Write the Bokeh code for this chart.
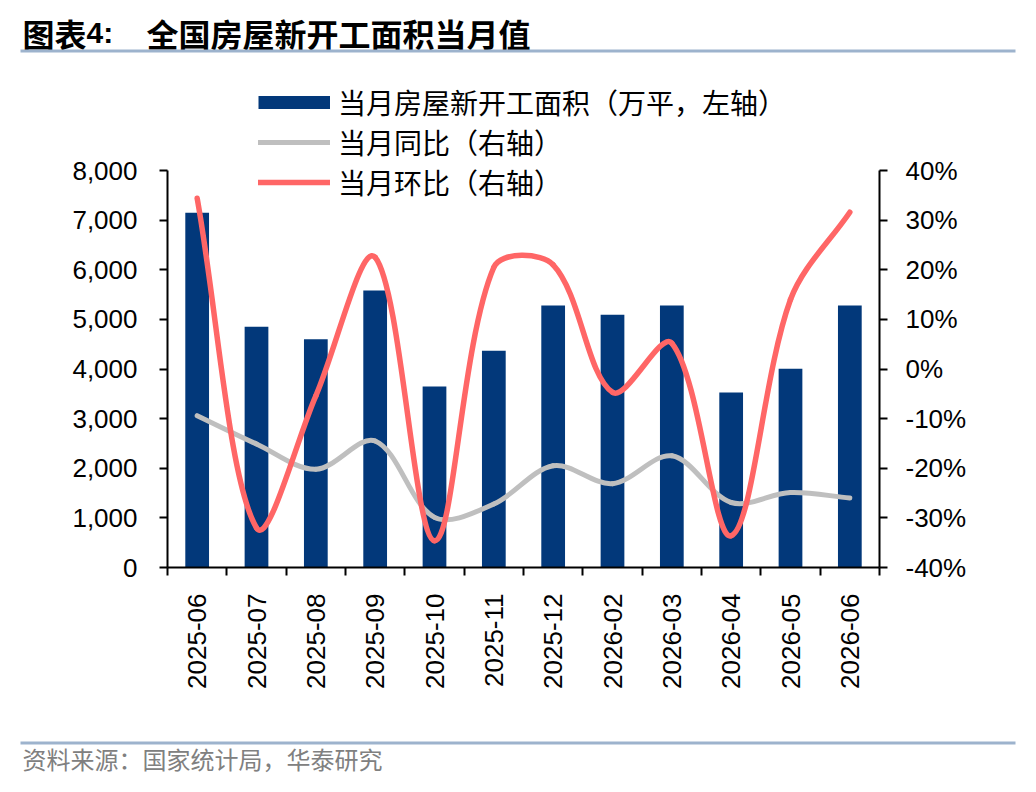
import numpy as np
from bokeh.plotting import figure
from bokeh.layouts import column
from bokeh.models import (ColumnDataSource, Range1d, LinearAxis, FixedTicker,
                          NumeralTickFormatter, PrintfTickFormatter, Legend,
                          LegendItem, Label, BoxAnnotation)
from bokeh.embed import file_html
from bokeh.resources import INLINE

# ---------------- data ----------------
months = ["2025-06", "2025-07", "2025-08", "2025-09", "2025-10", "2025-11",
          "2025-12", "2026-02", "2026-03", "2026-04", "2026-05", "2026-06"]
area = [7150, 4850, 4600, 5580, 3645, 4370, 5280, 5095, 5280, 3525, 4005, 5280]
yoy = [-9.4, -15.1, -20.2, -14.5, -29.9, -27.2, -19.5, -23.1, -17.5, -26.9, -24.9, -26.0]
mom = [34.4, -32.0, -5.4, 22.5, -34.6, 20.5, 21.0, -4.7, 5.2, -33.6, 14.0, 31.6]
left_ticks = [0, 1000, 2000, 3000, 4000, 5000, 6000, 7000, 8000]
right_ticks = [-40, -30, -20, -10, 0, 10, 20, 30, 40]

title_a = "图表"
title_b = "4:"
title_txt = "全国房屋新开工面积当月值"
source_txt = "资料来源：国家统计局，华泰研究"
leg_bar = "当月房屋新开工面积（万平，左轴）"
leg_yoy = "当月同比（右轴）"
leg_mom = "当月环比（右轴）"

NAVY = "#02387A"
GRAY = "#BFBFBF"
RED = "#FF6666"
RULE = "#9DB3CD"
CJK = "Noto Sans CJK SC"
TICK_FONT = "Liberation Sans"

W = 1020
HEAD_H, MAIN_H, FOOT_H = 60, 660, 56
# page positions (px) of the main frame
F_LEFT, F_RIGHT, F_BOTTOM, TOP_TICK = 167, 879, 567, 170
BL, BR, BT = F_LEFT, W - F_RIGHT, 0
BB = HEAD_H + MAIN_H - F_BOTTOM
FH = MAIN_H - BT - BB                    # frame height in px
DH = F_BOTTOM - TOP_TICK                 # px between lowest and highest tick


def blank(h):
    f = figure(width=W, height=h, output_backend="svg", toolbar_location=None,
               x_range=Range1d(0, 1), y_range=Range1d(0, 1),
               x_axis_location=None, y_axis_location=None,
               min_border_left=0, min_border_right=0, min_border_top=0,
               min_border_bottom=0)
    f.outline_line_color = None
    f.grid.visible = False
    f.frame_align = False
    return f


# ---------------- header ----------------
head = blank(HEAD_H)
head.add_layout(Label(x=22, y=HEAD_H - 32, x_units="screen", y_units="screen",
                      text=title_a, text_font=CJK, text_font_size="32px",
                      text_font_style="bold", text_baseline="middle", text_color="black"))
head.add_layout(Label(x=86, y=HEAD_H - 32, x_units="screen", y_units="screen",
                      text=title_b, text_font=TICK_FONT, text_font_size="30px",
                      text_font_style="bold", text_baseline="middle", text_color="black"))
head.add_layout(Label(x=146, y=HEAD_H - 32, x_units="screen", y_units="screen",
                      text=title_txt, text_font=CJK, text_font_size="32px",
                      text_font_style="bold", text_baseline="middle", text_color="black"))
head.add_layout(BoxAnnotation(left=20, right=1015, top=HEAD_H - 49, bottom=HEAD_H - 52,
                              left_units="screen", right_units="screen",
                              top_units="screen", bottom_units="screen",
                              fill_color=RULE, fill_alpha=1, line_color=None))

# ---------------- main chart ----------------
xs = np.arange(len(months))
y_top = left_ticks[0] + (left_ticks[-1] - left_ticks[0]) * FH / DH
r_top = right_ticks[0] + (right_ticks[-1] - right_ticks[0]) * FH / DH
p = figure(width=W, height=MAIN_H, output_backend="svg", toolbar_location=None,
           x_range=Range1d(-0.5, len(months) - 0.5),
           y_range=Range1d(left_ticks[0], y_top),
           min_border_left=BL, min_border_right=BR, min_border_top=BT,
           min_border_bottom=BB)
p.frame_align = False
p.extra_y_ranges = {"right": Range1d(right_ticks[0], r_top)}
p.outline_line_color = None
p.xgrid.visible = False
p.ygrid.visible = False

src = ColumnDataSource(dict(x=xs, area=area, yoy=yoy, mom=mom))
p.vbar(x="x", top="area", bottom=0, width=0.4, source=src,
       fill_color=NAVY, line_color=None)


def smooth(xv, yv, sx, sy, s=1.0 / 3.0):
    """Excel-like smoothed curve: cubic bezier segments through the points."""
    P = np.column_stack([np.asarray(xv, float) * sx, np.asarray(yv, float) * sy])
    n = len(P)
    d = np.hypot(*(P[1:] - P[:-1]).T)
    cout, cin = [], []
    for i in range(n):
        prev = P[i - 1] if i > 0 else P[i]
        nxt = P[i + 1] if i < n - 1 else P[i]
        T = nxt - prev
        dp = d[i - 1] if i > 0 else 0.0
        dn = d[i] if i < n - 1 else 0.0
        tot = dp + dn
        cout.append(P[i] + T * s * (dn / tot))
        cin.append(P[i] - T * s * (dp / tot))
    seg = dict(x0=[], y0=[], x1=[], y1=[], cx0=[], cy0=[], cx1=[], cy1=[])
    for i in range(n - 1):
        seg["x0"].append(P[i][0] / sx); seg["y0"].append(P[i][1] / sy)
        seg["x1"].append(P[i + 1][0] / sx); seg["y1"].append(P[i + 1][1] / sy)
        seg["cx0"].append(cout[i][0] / sx); seg["cy0"].append(cout[i][1] / sy)
        seg["cx1"].append(cin[i + 1][0] / sx); seg["cy1"].append(cin[i + 1][1] / sy)
    return ColumnDataSource(seg)


px_x = (F_RIGHT - F_LEFT) / len(months)
px_r = DH / (right_ticks[-1] - right_ticks[0])
p.bezier(x0="x0", y0="y0", x1="x1", y1="y1", cx0="cx0", cy0="cy0", cx1="cx1", cy1="cy1",
         source=smooth(xs, yoy, px_x, px_r), line_color=GRAY, line_width=5,
         line_cap="round", y_range_name="right")
p.bezier(x0="x0", y0="y0", x1="x1", y1="y1", cx0="cx0", cy0="cy0", cx1="cx1", cy1="cy1",
         source=smooth(xs, mom, px_x, px_r), line_color=RED, line_width=5.5,
         line_cap="round", y_range_name="right")

# ---------------- axes ----------------
xa = p.xaxis[0]
xa.ticker = FixedTicker(ticks=list(xs), minor_ticks=[i - 0.5 for i in range(len(months) + 1)])
xa.major_label_overrides = {int(i): m for i, m in zip(xs, months)}
xa.major_label_orientation = np.pi / 2
xa.major_tick_out = 0
xa.major_tick_in = 0
xa.minor_tick_out = 8
xa.minor_tick_in = 0
xa.minor_tick_line_color = "black"
xa.minor_tick_line_width = 2
xa.axis_line_color = "black"
xa.axis_line_width = 2
xa.major_label_text_font = TICK_FONT
xa.major_label_text_font_size = "26px"
xa.major_label_text_color = "black"
xa.major_label_standoff = 18

ya = p.yaxis[0]
ya.ticker = FixedTicker(ticks=left_ticks, minor_ticks=[])
ya.formatter = NumeralTickFormatter(format="0,0")
ya.bounds = (left_ticks[0], left_ticks[-1])
ra = LinearAxis(y_range_name="right",
                ticker=FixedTicker(ticks=right_ticks, minor_ticks=[]),
                formatter=PrintfTickFormatter(format="%d%%"),
                bounds=(right_ticks[0], right_ticks[-1]))
p.add_layout(ra, "right")
for ax in (ya, ra):
    ax.axis_line_color = "black"
    ax.axis_line_width = 2
    ax.major_tick_line_color = "black"
    ax.major_tick_line_width = 2
    ax.major_tick_out = 8
    ax.major_tick_in = 0
    ax.minor_tick_out = 0
    ax.minor_tick_in = 0
    ax.major_label_text_font = TICK_FONT
    ax.major_label_text_font_size = "26px"
    ax.major_label_text_color = "black"
ya.major_label_standoff = 22
ra.major_label_standoff = 18

# ---------------- legend ----------------
r_bar = p.line(x=[np.nan], y=[np.nan], line_color=NAVY, line_width=13, line_cap="butt")
r_yoy = p.line(x=[np.nan], y=[np.nan], line_color=GRAY, line_width=5, line_cap="round")
r_mom = p.line(x=[np.nan], y=[np.nan], line_color=RED, line_width=5.5, line_cap="round")
ROW = 40
legend = Legend(items=[LegendItem(label=leg_bar, renderers=[r_bar]),
                       LegendItem(label=leg_yoy, renderers=[r_yoy]),
                       LegendItem(label=leg_mom, renderers=[r_mom])],
                location=(258 - F_LEFT, F_BOTTOM - (182 + ROW / 2)),
                orientation="vertical",
                glyph_width=72, glyph_height=ROW, label_height=ROW,
                label_standoff=8, spacing=0, padding=0, margin=0,
                border_line_color=None, background_fill_alpha=0,
                label_text_font=CJK, label_text_font_size="28px",
                label_text_color="black")
p.add_layout(legend, "center")

# ---------------- footer ----------------
foot = blank(FOOT_H)
top0 = HEAD_H + MAIN_H
foot.add_layout(BoxAnnotation(left=20, right=1015, top=FOOT_H - (741 - top0),
                              bottom=FOOT_H - (744 - top0),
                              left_units="screen", right_units="screen",
                              top_units="screen", bottom_units="screen",
                              fill_color=RULE, fill_alpha=1, line_color=None))
foot.add_layout(Label(x=22, y=FOOT_H - (758 - top0), x_units="screen", y_units="screen",
                      text=source_txt, text_font=CJK, text_font_size="24px",
                      text_baseline="middle", text_color="#808080"))

layout = column(head, p, foot, spacing=0)
open("out.html", "w").write(file_html(layout, INLINE))
